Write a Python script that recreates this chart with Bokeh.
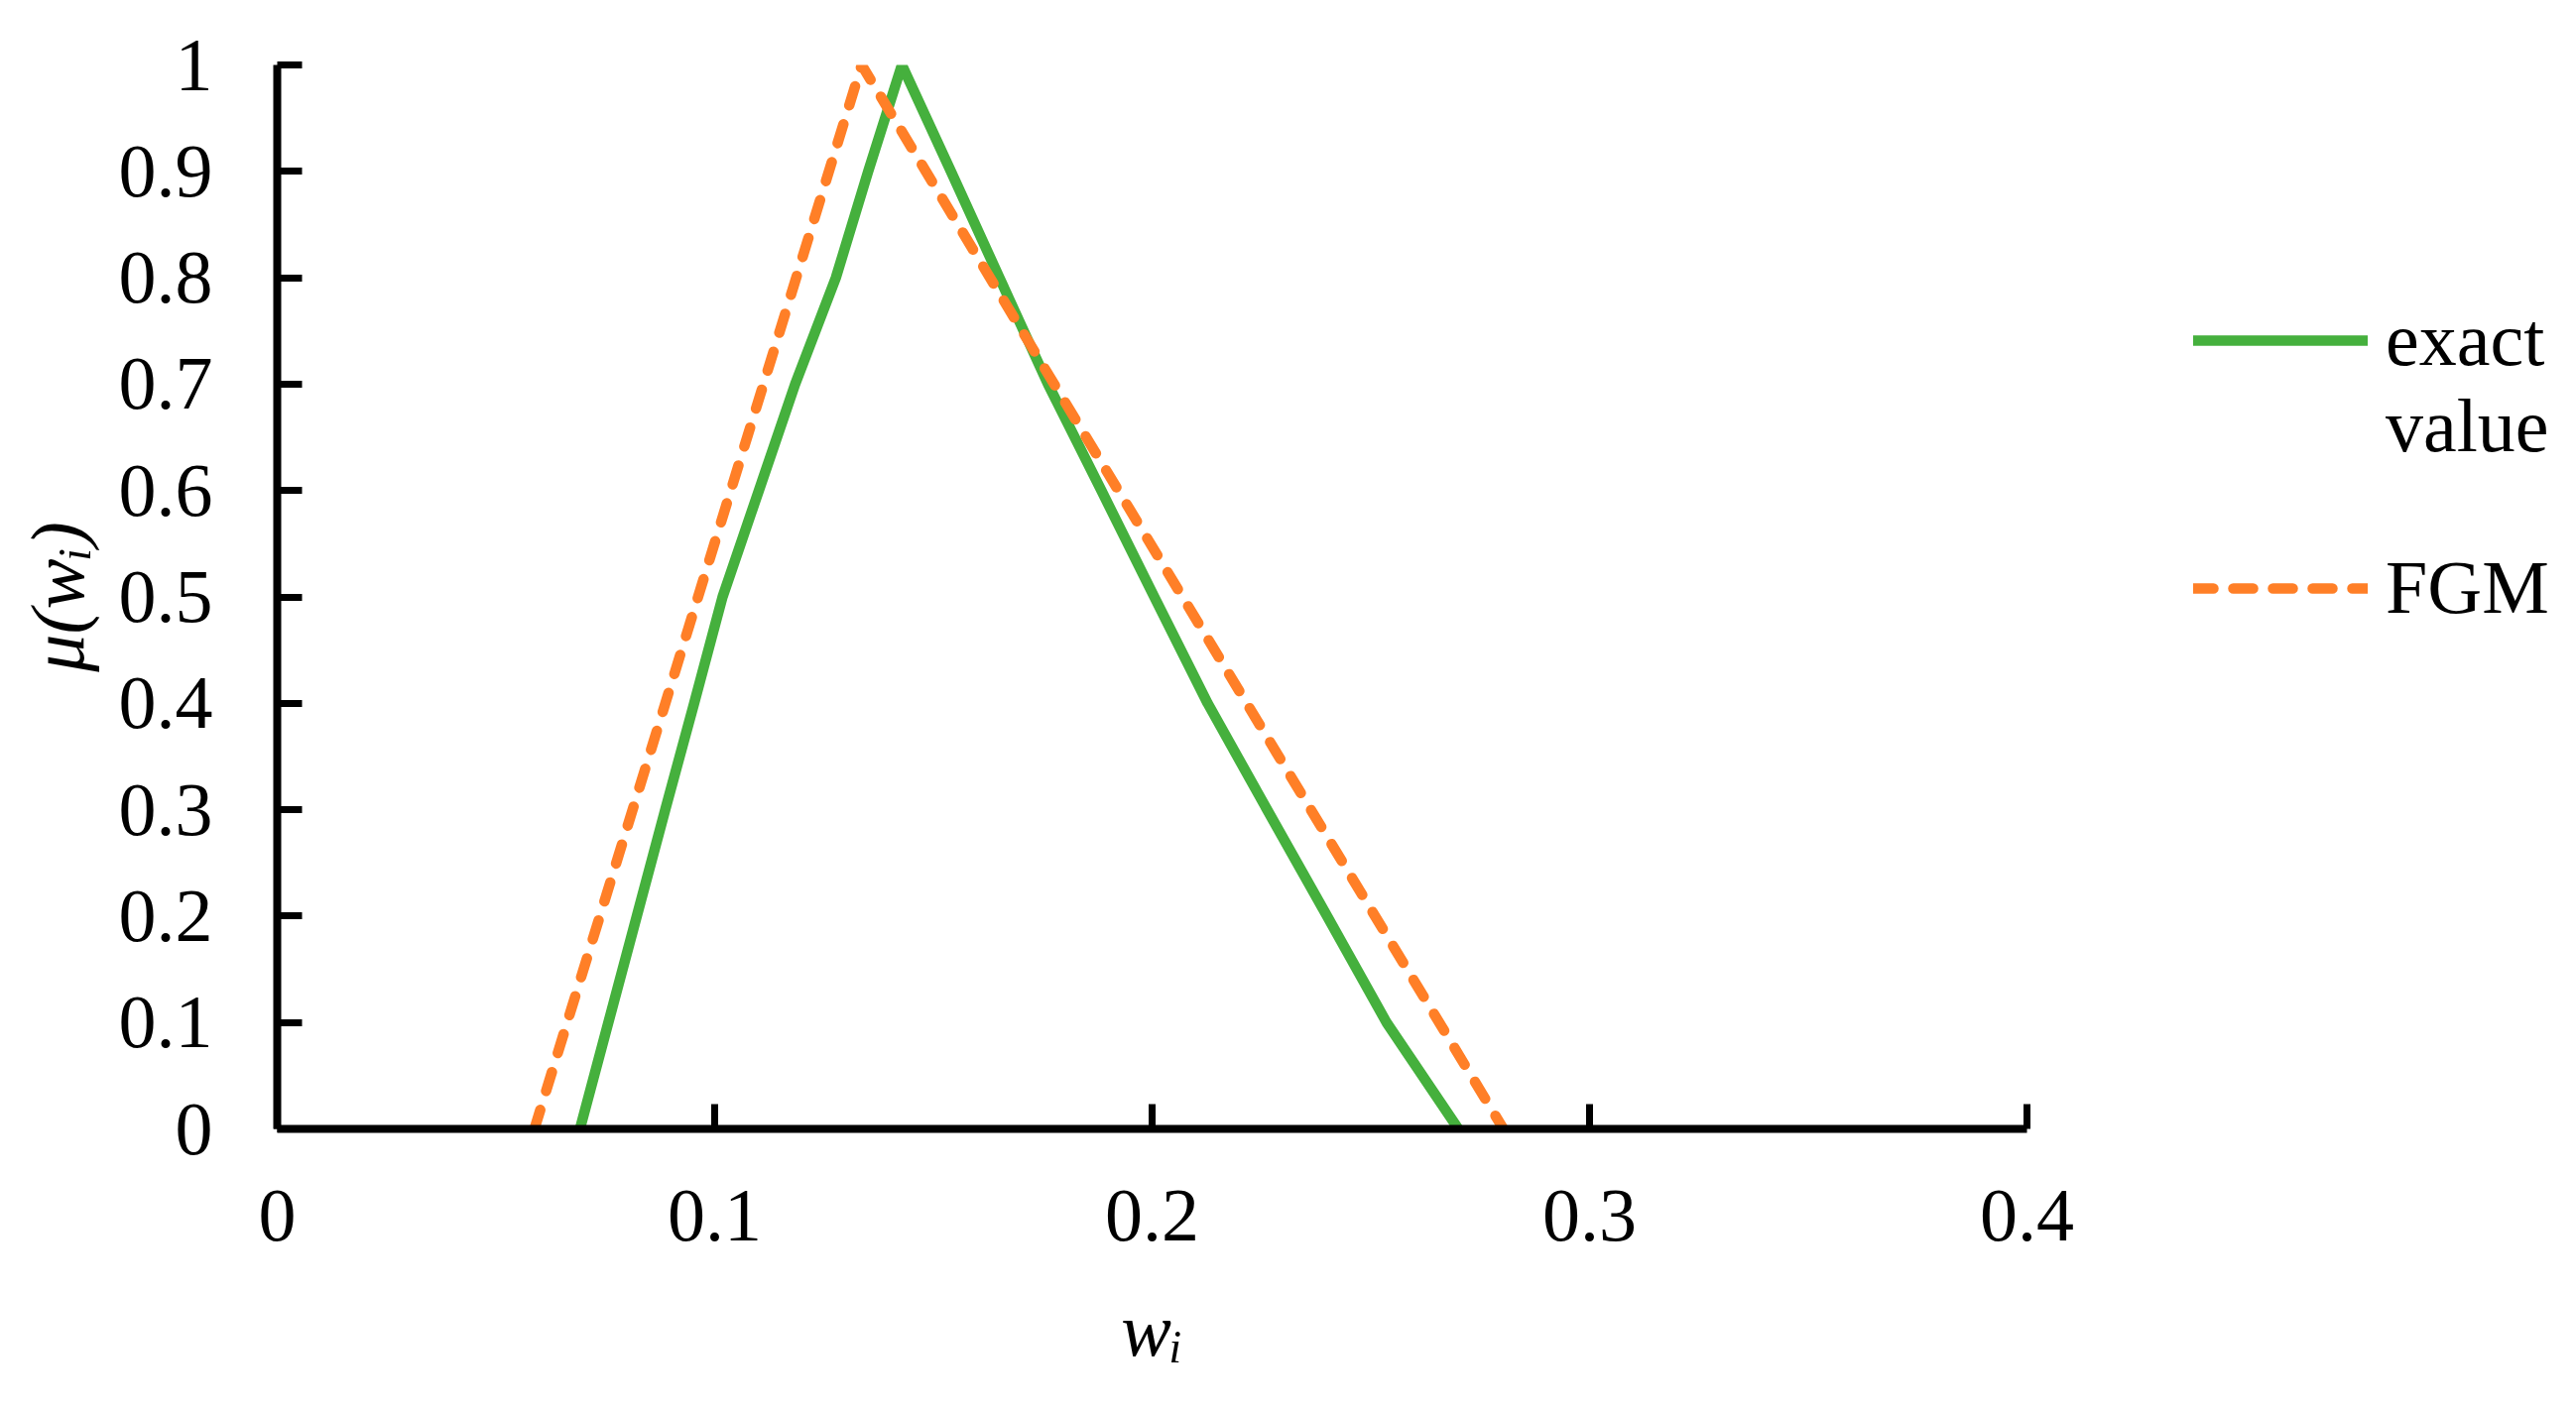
from bokeh.plotting import figure
from bokeh.models import Range1d, FixedTicker, Legend, LegendItem
from bokeh.embed import file_html
from bokeh.resources import INLINE

# ---------------- data ----------------
mu_levels = [0.0, 0.1, 0.2, 0.3, 0.4, 0.5, 0.6, 0.7, 0.8, 0.9, 1.0]
# exact value: lower and upper bounds of each alpha-cut
exact_left = [0.0692, 0.0757, 0.0822, 0.0887, 0.0953, 0.1018, 0.1101, 0.1184, 0.1277, 0.1351, 0.1428]
exact_right = [0.2700, 0.2536, 0.2400, 0.2263, 0.2127, 0.2005, 0.1884, 0.1762, 0.1651, 0.1540, 0.1428]
# FGM: triangular fuzzy number
fgm_w = [0.0588, 0.1336, 0.2803]
fgm_mu = [0.0, 1.0, 0.0]

series_labels = ["exact\nvalue", "FGM"]
x_title = "w\u1d62"
y_title = "\u03bc(w\u1d62)"
x_ticks = [0, 0.1, 0.2, 0.3, 0.4]
x_tick_labels = ["0", "0.1", "0.2", "0.3", "0.4"]
y_ticks = [0, 0.1, 0.2, 0.3, 0.4, 0.5, 0.6, 0.7, 0.8, 0.9, 1]
y_tick_labels = ["0", "0.1", "0.2", "0.3", "0.4", "0.5", "0.6", "0.7", "0.8", "0.9", "1"]

# ---------------- style ----------------
FONT = "Liberation Serif"
GREEN = "#45B03D"
ORANGE = "#FF7F27"
FS = "76px"

p = figure(
    frame_width=1764, frame_height=1073,
    min_border_left=279, min_border_right=538,
    min_border_top=65, min_border_bottom=277,
    x_range=Range1d(0, 0.4), y_range=Range1d(0, 1),
    output_backend="svg", toolbar_location=None,
    background_fill_color="white", border_fill_color="white",
)
p.outline_line_color = None
p.xgrid.visible = False
p.ygrid.visible = False

p.xaxis.ticker = FixedTicker(ticks=x_ticks)
p.yaxis.ticker = FixedTicker(ticks=y_ticks)
p.xaxis.major_label_overrides = dict(zip(x_ticks, x_tick_labels))
p.yaxis.major_label_overrides = dict(zip(y_ticks, y_tick_labels))

for ax in (p.xaxis[0], p.yaxis[0]):
    ax.axis_line_width = 8
    ax.axis_line_color = "black"
    ax.major_tick_line_width = 7
    ax.major_tick_line_color = "black"
    ax.major_tick_in = 25
    ax.major_tick_out = 0
    ax.minor_tick_line_color = None
    ax.major_label_text_font = FONT
    ax.major_label_text_font_size = FS
    ax.major_label_text_color = "black"
    ax.axis_label_text_font = FONT
    ax.axis_label_text_font_size = FS
    ax.axis_label_text_font_style = "italic"
    ax.axis_label_text_color = "black"
p.xaxis.major_label_standoff = 62
p.yaxis.major_label_standoff = 65
p.xaxis.axis_label = x_title
p.yaxis.axis_label = y_title
p.xaxis.axis_label_standoff = 45
p.yaxis.axis_label_standoff = 17

# ---------------- series ----------------
exact_x = exact_left + exact_right[::-1][1:]
exact_y = mu_levels + mu_levels[::-1][1:]
r_exact = p.line(exact_x, exact_y, line_color=GREEN, line_width=10.5,
                 line_cap="round", line_join="round")
r_fgm = p.line(fgm_w, fgm_mu, line_color=ORANGE, line_width=10.5,
               line_dash="20 20", line_cap="round", line_join="round")

# ---------------- legend ----------------
# a leading blank line keeps the green sample level with the first text line
legend = Legend(
    items=[LegendItem(label="\n" + series_labels[0], renderers=[r_exact]),
           LegendItem(label=series_labels[1], renderers=[r_fgm])],
    location=(168, 502), orientation="vertical",
    glyph_width=176, glyph_height=52, label_standoff=18, spacing=76,
    padding=0, margin=0, border_line_color=None, background_fill_alpha=0,
    label_text_font=FONT, label_text_font_size=FS, label_text_color="black",
    label_text_line_height=1.27,
)
p.add_layout(legend, "right")

open("out.html", "w").write(file_html(p, INLINE))
